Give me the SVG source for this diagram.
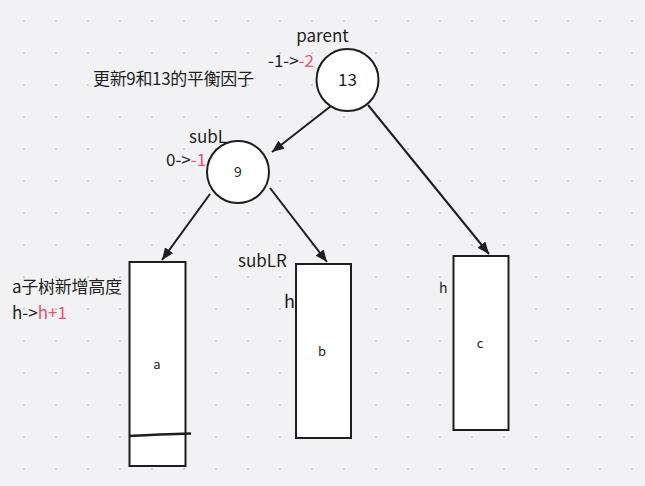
<svg xmlns="http://www.w3.org/2000/svg" width="645" height="486" viewBox="0 0 645 486">
<defs>
<pattern id="dots" x="0" y="0" width="32" height="32" patternUnits="userSpaceOnUse">
<rect x="23" y="20" width="2" height="2" fill="#cfcfd3"/>
</pattern>
<marker id="arr" viewBox="0 0 12 10" refX="12" refY="5" markerWidth="12" markerHeight="10" markerUnits="userSpaceOnUse" orient="auto">
<path d="M0,0 L12,5 L0,10 Z" fill="#1e1e1e"/>
</marker>
<style>
.t{font-family:"Noto Sans CJK SC","Noto Sans",sans-serif;fill:#1e1e1e}
.r{fill:#f0506e}
.n{fill:#fff;stroke:#1e1e1e;stroke-width:2}
.e{stroke:#1e1e1e;stroke-width:2;fill:none;marker-end:url(#arr)}
</style>
</defs>
<rect width="645" height="486" fill="#f2f2f4"/>
<rect width="645" height="486" fill="url(#dots)"/>
<g id="connectors">
<line class="e" x1="331" y1="106" x2="272" y2="152"/>
<line class="e" x1="210" y1="194" x2="162" y2="260"/>
<line class="e" x1="270" y1="188" x2="327" y2="262"/>
<line class="e" x1="368" y1="105" x2="489" y2="254"/>
</g>
<g id="parent">
<circle class="n" cx="347.5" cy="80" r="31"/>
<text class="t" x="347.5" y="86" font-size="17" text-anchor="middle">13</text>
<text class="t" x="322.5" y="42" font-size="17" text-anchor="middle">parent</text>
<text class="t" x="268" y="67" font-size="17">-1-&gt;<tspan class="r">-2</tspan></text>
</g>
<g id="note">
<text class="t" x="93" y="85" font-size="17" textLength="161">更新9和13的平衡因子</text>
</g>
<g id="subL">
<circle class="n" cx="238" cy="172" r="31"/>
<text class="t" x="238" y="177" font-size="14" text-anchor="middle" fill="#333">9</text>
<text class="t" x="189" y="143" font-size="17">subL</text>
<text class="t" x="166" y="166" font-size="17">0-&gt;<tspan class="r">-1</tspan></text>
</g>
<g id="a">
<rect class="n" x="129.5" y="262" width="56" height="204"/>
<path d="M129,436 L160,434.5 L191,433.5" stroke="#1e1e1e" stroke-width="2.5" fill="none"/>
<text class="t" x="157" y="369" font-size="13" text-anchor="middle">a</text>
<text class="t" x="12" y="293" font-size="17" textLength="110">a子树新增高度</text>
<text class="t" x="12" y="319" font-size="17">h-&gt;<tspan class="r">h+1</tspan></text>
</g>
<g id="b">
<rect class="n" x="296" y="264" width="55" height="174"/>
<text class="t" x="322" y="356" font-size="13" text-anchor="middle">b</text>
<text class="t" x="238" y="267" font-size="17">subLR</text>
<text class="t" x="284" y="308" font-size="18">h</text>
</g>
<g id="c">
<rect class="n" x="453.5" y="256" width="55" height="174"/>
<text class="t" x="480" y="348" font-size="13" text-anchor="middle">c</text>
<text class="t" x="439" y="293" font-size="14" fill="#444">h</text>
</g>
</svg>
